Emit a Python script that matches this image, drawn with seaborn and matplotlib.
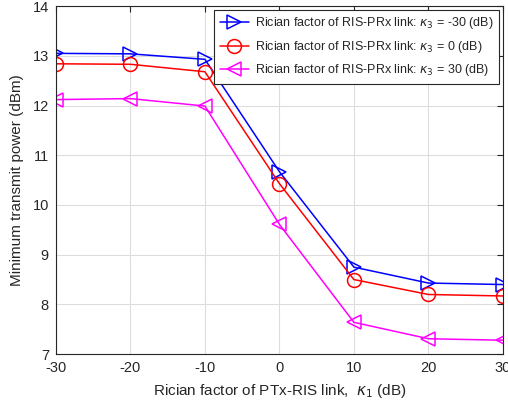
import numpy as np
import pandas as pd
import matplotlib
matplotlib.use('Agg')
import matplotlib.pyplot as plt
import seaborn as sns

kappa1 = [-30, -20, -10, 0, 10, 20, 30]
power_k3_m30 = [13.05, 13.04, 12.93, 10.67, 8.75, 8.43, 8.40]
power_k3_0 = [12.84, 12.83, 12.68, 10.43, 8.50, 8.20, 8.17]
power_k3_30 = [12.12, 12.14, 11.99, 9.61, 7.64, 7.31, 7.28]

labels = [r'Rician factor of RIS-PRx link: $\kappa_3$ = -30 (dB)',
          r'Rician factor of RIS-PRx link: $\kappa_3$ = 0 (dB)',
          r'Rician factor of RIS-PRx link: $\kappa_3$ = 30 (dB)']
colors = ['#0000ff', '#ff0000', '#ff00ff']
markers = ['>', 'o', '<']

sns.set_style('white')
plt.rcParams['font.family'] = ['Liberation Sans', 'DejaVu Sans']
plt.rcParams['mathtext.fontset'] = 'dejavusans'

fig = plt.figure(figsize=(5.08, 4.08), dpi=100)
ax = fig.add_axes([0.110, 0.132, 0.880, 0.853])

for vals, lab, c, m in zip([power_k3_m30, power_k3_0, power_k3_30], labels, colors, markers):
    df = pd.DataFrame({'k1': kappa1, 'p': vals})
    sns.lineplot(data=df, x='k1', y='p', ax=ax, color=c, marker=m, markersize=10,
                 markerfacecolor='none', markeredgecolor=c, markeredgewidth=1.1,
                 linewidth=1.1, label=lab)

ax.set_xlim(-30, 30)
ax.set_ylim(7, 14)
ax.set_xticks(kappa1)
ax.set_xticklabels(['-30', '-20', '-10', '0', '10', '20', '30'])
ax.set_yticks(range(7, 15))
ax.grid(True, color='#dddddd', linewidth=0.8)
ax.tick_params(direction='in', top=True, right=True, length=4, width=0.8,
               labelsize=10.5, colors='#262626', pad=5)
for s in ax.spines.values():
    s.set_color('#262626')
    s.set_linewidth(0.8)
ax.set_xlabel(r'Rician factor of PTx-RIS link,  $\kappa_1$ (dB)', fontsize=11, color='#262626', labelpad=5)
ax.set_ylabel('Minimum transmit power (dBm)', fontsize=11, color='#262626', labelpad=6)
leg = ax.legend(loc='upper right', fontsize=9, frameon=True, fancybox=False,
                edgecolor='#262626', framealpha=1, borderaxespad=0.3,
                handlelength=2.3, labelspacing=0.6, handletextpad=0.5,
                borderpad=0.45)
leg.get_frame().set_linewidth(0.8)

fig.savefig('out.png', dpi=100)
